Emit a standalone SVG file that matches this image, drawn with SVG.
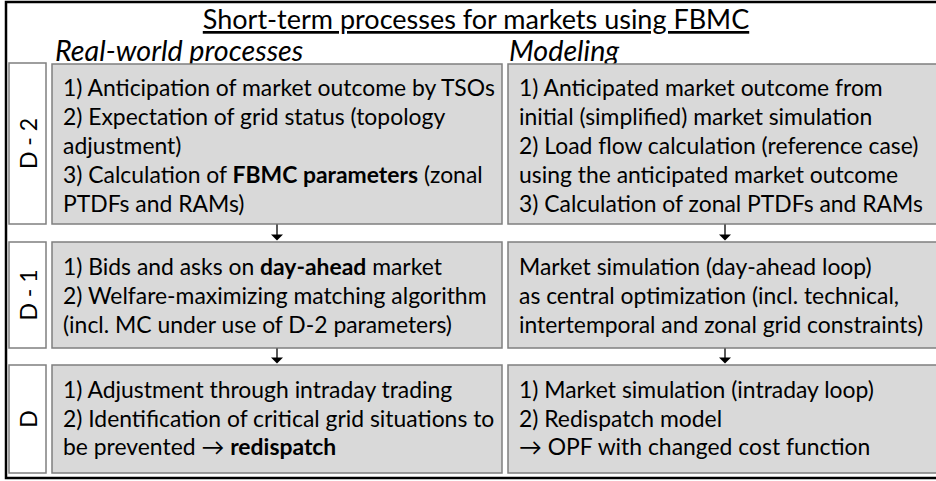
<svg xmlns="http://www.w3.org/2000/svg" width="936" height="481" viewBox="0 0 936 481">
  <style>
    text { font-family: "Lato", "Liberation Sans", sans-serif; fill: #000; }
    .title { font-size: 27px; text-decoration: underline; }
    .head { font-size: 28.7px; font-style: italic; }
    .body { font-size: 22.9px; }
    .lbl { font-size: 23px; }
    .b { font-weight: bold; }
    .box { fill: #d9d9d9; stroke: #7f7f7f; stroke-width: 1.5; }
    .tag { fill: #fff; stroke: #7f7f7f; stroke-width: 1.5; }
    .conn { stroke: #000; stroke-width: 1.3; fill: none; }
    .head-tip { fill: #000; }
  </style>

  <!-- frame -->
  <rect x="6" y="2" width="940" height="476" fill="#fff" stroke="#000" stroke-width="2.5"/>

  <g id="title">
    <text class="title" x="476" y="29" text-anchor="middle">Short-term processes for markets using FBMC</text>
  </g>
  <g id="header-real">
    <text class="head" x="55" y="61">Real-world processes</text>
  </g>
  <g id="header-model">
    <text class="head" x="509" y="61">Modeling</text>
  </g>

  <!-- day labels -->
  <g id="label-d2">
    <rect class="tag" x="9" y="63" width="37" height="161"/>
    <text class="lbl" transform="translate(28,143.5) rotate(-90)" text-anchor="middle" dominant-baseline="central">D - 2</text>
  </g>
  <g id="label-d1">
    <rect class="tag" x="9" y="242" width="37" height="106"/>
    <text class="lbl" transform="translate(28,295) rotate(-90)" text-anchor="middle" dominant-baseline="central">D - 1</text>
  </g>
  <g id="label-d">
    <rect class="tag" x="9" y="365" width="37" height="108"/>
    <text class="lbl" transform="translate(28,419) rotate(-90)" text-anchor="middle" dominant-baseline="central">D</text>
  </g>

  <!-- real-world column -->
  <g id="real-d2">
    <rect class="box" x="52" y="64" width="450" height="160"/>
    <text class="body" x="63" y="96">1) Anticipation of market outcome by TSOs</text>
    <text class="body" x="63" y="125">2) Expectation of grid status (topology</text>
    <text class="body" x="63" y="154">adjustment)</text>
    <text class="body" x="63" y="183">3) Calculation of <tspan class="b">FBMC parameters</tspan> (zonal</text>
    <text class="body" x="63" y="212">PTDFs and RAMs)</text>
  </g>
  <g id="real-d1">
    <rect class="box" x="52" y="242" width="450" height="106"/>
    <text class="body" x="63" y="275">1) Bids and asks on <tspan class="b">day-ahead</tspan> market</text>
    <text class="body" x="63" y="304">2) Welfare-maximizing matching algorithm</text>
    <text class="body" x="63" y="333">(incl. MC under use of D-2 parameters)</text>
  </g>
  <g id="real-d">
    <rect class="box" x="52" y="365" width="450" height="108"/>
    <text class="body" x="63" y="398">1) Adjustment through intraday trading</text>
    <text class="body" x="63" y="427">2) Identification of critical grid situations to</text>
    <text class="body" x="63" y="455">be prevented → <tspan class="b">redispatch</tspan></text>
  </g>

  <!-- modeling column -->
  <g id="model-d2">
    <rect class="box" x="508" y="64" width="434" height="160"/>
    <text class="body" x="519" y="96">1) Anticipated market outcome from</text>
    <text class="body" x="519" y="125">initial (simplified) market simulation</text>
    <text class="body" x="519" y="154">2) Load flow calculation (reference case)</text>
    <text class="body" x="519" y="183">using the anticipated market outcome</text>
    <text class="body" x="519" y="212">3) Calculation of zonal PTDFs and RAMs</text>
  </g>
  <g id="model-d1">
    <rect class="box" x="508" y="242" width="434" height="106"/>
    <text class="body" x="519" y="275">Market simulation (day-ahead loop)</text>
    <text class="body" x="519" y="304">as central optimization (incl. technical,</text>
    <text class="body" x="519" y="333">intertemporal and zonal grid constraints)</text>
  </g>
  <g id="model-d">
    <rect class="box" x="508" y="365" width="434" height="108"/>
    <text class="body" x="519" y="398">1) Market simulation (intraday loop)</text>
    <text class="body" x="519" y="427">2) Redispatch model</text>
    <text class="body" x="519" y="455">→ OPF with changed cost function</text>
  </g>

  <!-- connectors: stem plus downward filled head -->
  <g id="connectors">
    <line class="conn" x1="277" y1="224.5" x2="277" y2="236"/>
    <polygon class="head-tip" points="271,234.5 283,234.5 277,240.5"/>
    <line class="conn" x1="725" y1="224.5" x2="725" y2="236"/>
    <polygon class="head-tip" points="719,234.5 731,234.5 725,240.5"/>
    <line class="conn" x1="277" y1="348.5" x2="277" y2="359"/>
    <polygon class="head-tip" points="271,357.5 283,357.5 277,363.5"/>
    <line class="conn" x1="725" y1="348.5" x2="725" y2="359"/>
    <polygon class="head-tip" points="719,357.5 731,357.5 725,363.5"/>
  </g>
</svg>
